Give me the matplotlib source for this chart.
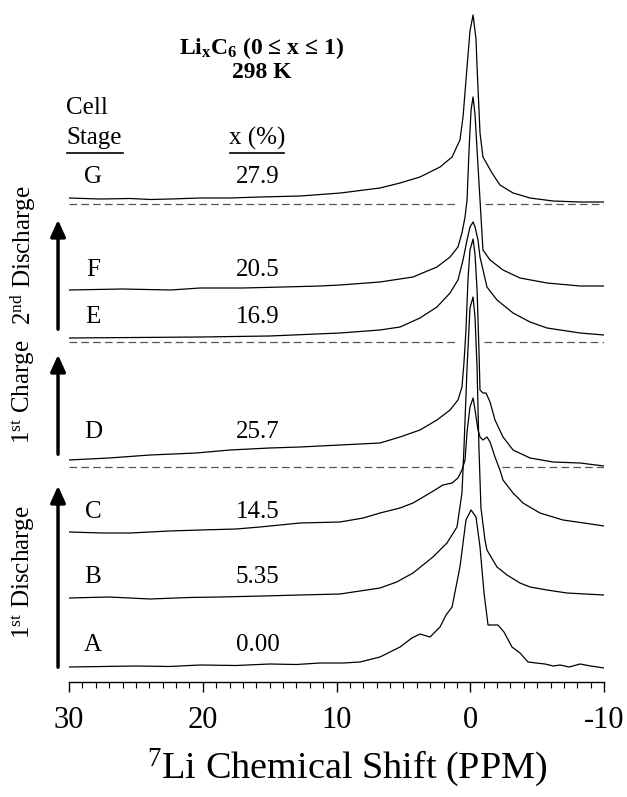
import matplotlib
matplotlib.use('Agg')
import matplotlib.pyplot as plt
from matplotlib.ticker import MultipleLocator

plt.rcParams['font.family'] = 'Liberation Serif'
plt.rcParams['mathtext.fontset'] = 'custom'
plt.rcParams['mathtext.rm'] = 'Liberation Serif'
plt.rcParams['mathtext.it'] = 'Liberation Serif:italic'
plt.rcParams['mathtext.bf'] = 'Liberation Serif:bold'
plt.rcParams['lines.scale_dashes'] = False
plt.rcParams['axes.unicode_minus'] = False

# spectra: shift (ppm) and height above each trace's baseline
A_ppm = [30, 27.5, 25, 22.5, 20.21, 17.5, 15, 13, 11.23, 9.5, 8.24, 6.75, 5.25, 4.36, 3.76, 3.01, 2.26,
         1.81, 1.36, 0.77, 0.32, -0.06, -0.43, -0.73, -1.03, -1.33, -1.70, -2.07, -2.52, -3.12, -3.72,
         -4.32, -4.92, -5.59, -6.2, -6.71, -7.4, -8.21, -9.0, -10]
A_h = [0, 0.5, 1, 0.5, 2, 1.5, 3, 2.5, 4, 4, 5, 10, 20, 29, 33, 30, 40,
       52, 60, 100, 147, 157, 150, 120, 74, 42, 42, 42, 35, 20, 14,
       5, 4, 3, 1, 2, 0, 3, 1, -1]

B_ppm = [30, 27, 23.94, 21, 18.71, 15.5, 12.73, 9.74, 6.75, 5.5, 4.28, 2.79, 1.74, 0.99, 0.62, 0.47, 0.24,
         0.02, -0.21, -0.36, -0.51, -0.65, -0.80, -1.10, -1.25, -2.0, -2.75, -3.72, -4.47, -5.74, -7.23,
         -8.6, -10]
B_h = [0, 1, -1, 0.5, 1, 2, 3, 4, 10, 16, 25, 41, 55, 71, 105, 150, 230,
       290, 301, 280, 230, 150, 90, 58, 48, 31, 23, 15, 11, 8, 5,
       4, 3]

C_ppm = [30, 27.5, 25.4, 22.5, 20.2, 17.5, 15.72, 12.73, 9.74, 8.0, 6.75, 5.25, 4.28, 3.01, 2.04, 1.36,
         0.92, 0.62, 0.39, 0.24, 0.02, -0.21, -0.36, -0.58, -0.73, -0.95, -1.25, -1.48, -1.85, -2.22,
         -2.45, -3.2, -3.94, -5.21, -6.93, -8.5, -10]
C_h = [0, -1, -1, 1, 2, 3, 5, 9, 10, 14, 19, 24, 29, 39, 47, 49,
       54, 62, 72, 100, 125, 134, 122, 102, 95, 92, 95, 90, 75, 62,
       52, 39, 29, 19, 12, 9, 6]

D_ppm = [30, 27, 23.94, 20.5, 17.96, 15, 12.73, 9.74, 6.75, 5.25, 3.76, 2.49, 1.51, 0.92, 0.62, 0.47,
         0.32, 0.17, 0.02, -0.21, -0.36, -0.51, -0.65, -0.73, -0.95, -1.18, -1.48, -1.85, -2.45, -3.2,
         -4.47, -6.19, -8.21, -10]
D_h = [0, 2, 5, 7, 10, 12, 13, 15, 17, 23, 30, 40, 50, 60, 73, 97,
       130, 180, 210, 221, 205, 170, 110, 70, 67, 67, 58, 40, 23, 10,
       2, -2, -3, -6]

E_ppm = [30, 25, 20.2, 15, 9.74, 6.75, 5.25, 3.76, 2.49, 1.51, 0.92, 0.54, 0.24, 0.02, -0.21, -0.36,
         -0.58, -0.73, -1.25, -2.0, -3.2, -4.47, -5.74, -8.21, -10]
E_h = [0, 0.5, 1, 2, 5, 8, 11, 20, 31, 45, 58, 78, 98, 111, 116, 111,
       98, 81, 51, 38, 25, 16, 10, 5, 3]

F_ppm = [30, 26.0, 22.4, 20.2, 17.0, 14.0, 11.2, 9.74, 6.75, 4.28, 2.49, 1.51, 0.92, 0.62, 0.39, 0.24,
         0.09, -0.06, -0.21, -0.36, -0.51, -0.73, -0.95, -1.48, -2.45, -3.72, -5.74, -8.21, -10]
F_h = [0, 1, 0, 2, 2, 3, 4, 5, 8, 13, 23, 33, 43, 57, 73, 90,
       140, 180, 193, 175, 140, 90, 40, 30, 20, 12, 7, 4, 4]

G_ppm = [30, 27.7, 25.4, 23.9, 22.4, 20.2, 18.0, 15.7, 12.7, 9.7, 6.75, 5.25, 3.76, 2.26, 1.36, 0.77,
         0.54, 0.24, 0.02, -0.21, -0.43, -0.51, -0.73, -0.95, -1.63, -2.22, -3.2, -4.47, -6.19, -8.21, -10]
G_h = [1, 0, 0.5, -0.5, 0, 1, 1, 2, 3, 6, 11, 16, 22, 32, 42, 59,
       82, 132, 168, 184, 160, 132, 66, 42, 26, 14, 6, 1, -2, -3, -3]

stages = ['A', 'B', 'C', 'D', 'E', 'F', 'G']
x_pct = ['0.00', '5.35', '14.5', '25.7', '16.9', '20.5', '27.9']
spectra = [(A_ppm, A_h), (B_ppm, B_h), (C_ppm, C_h), (D_ppm, D_h),
           (E_ppm, E_h), (F_ppm, F_h), (G_ppm, G_h)]
offsets = [15, 84, 150, 222, 344, 392, 483]
label_y = [37, 105, 170, 250, 365, 412, 505]

# dashed reference lines between the cycles, with the gap round the peak
dash_y = [215, 340, 478]
dash_gap = [(1.3, -2.4), (0.9, -1.0), (0.9, -1.1)]

fig = plt.figure(figsize=(6.27, 7.97), dpi=100)
ax = fig.add_axes([69 / 627, 115 / 797, 535 / 627, 677 / 797])
ax.set_xlim(30, -10)
ax.set_ylim(0, 677)

for (ppm, h), off in zip(spectra, offsets):
    ax.plot(ppm, [v + off for v in h], color='black', lw=0.9)

for y, (g1, g2) in zip(dash_y, dash_gap):
    ax.plot([30, g1], [y, y], color='#555555', lw=0.9, dashes=(5.5, 3))
    ax.plot([g2, -10], [y, y], color='#555555', lw=0.9, dashes=(5.5, 3))

for s, xp, y in zip(stages, x_pct, label_y):
    ax.text(28.2, y, s, fontsize=18, ha='center', va='center')
    ax.text(15.9, y, xp, fontsize=18, ha='center', va='center')

ax.text(30.2, 574, 'Cell', fontsize=18, ha='left', va='center')
ax.text(30.2, 544, 'Stage', fontsize=18, ha='left', va='center')
ax.text(15.9, 544, 'x (%)', fontsize=18, ha='center', va='center')
ax.plot([30.15, 26.0], [529, 529], color='black', lw=1.2, clip_on=False)
ax.plot([18.0, 13.9], [529, 529], color='black', lw=1.2, clip_on=False)

ax.text(15.57, 634, r'Li$_\mathbf{x}$C$_\mathbf{6}$ (0 ≤ x ≤ 1)', fontsize=17,
        fontweight='bold', ha='center', va='center')
ax.text(15.57, 610, '298 K', fontsize=17, fontweight='bold', ha='center', va='center')

# cycle arrows and their names
arrows = [(12, 199), (225, 330), (350, 465)]
names = [r'1$^{\rm st}$ Discharge', r'1$^{\rm st}$ Charge', r'2$^{\rm nd}$ Discharge']
name_y = [110, 290, 427]
for (y0, y1), nm, ny in zip(arrows, names, name_y):
    ax.annotate('', xy=(30.82, y1), xytext=(30.82, y0), annotation_clip=False,
                arrowprops=dict(arrowstyle='-|>,head_length=1.0,head_width=0.45',
                                color='black', lw=2.5))
    ax.text(33.45, ny, nm, fontsize=18, rotation=90, ha='center', va='center')

for side in ['top', 'right', 'left']:
    ax.spines[side].set_visible(False)
ax.spines['bottom'].set_linewidth(1.0)
ax.set_yticks([])
ax.set_xticks([30, 20, 10, 0, -10])
ax.xaxis.set_minor_locator(MultipleLocator(1))
ax.tick_params(axis='x', which='major', length=7, width=1.0, labelsize=22, pad=10)
ax.tick_params(axis='x', which='minor', length=4, width=0.8)
ax.set_xlabel(r'$^{7}$Li Chemical Shift (PPM)', fontsize=27.5, labelpad=9)
ax.xaxis.set_label_coords(0.52, -0.095)

fig.savefig('out.png', dpi=100)
